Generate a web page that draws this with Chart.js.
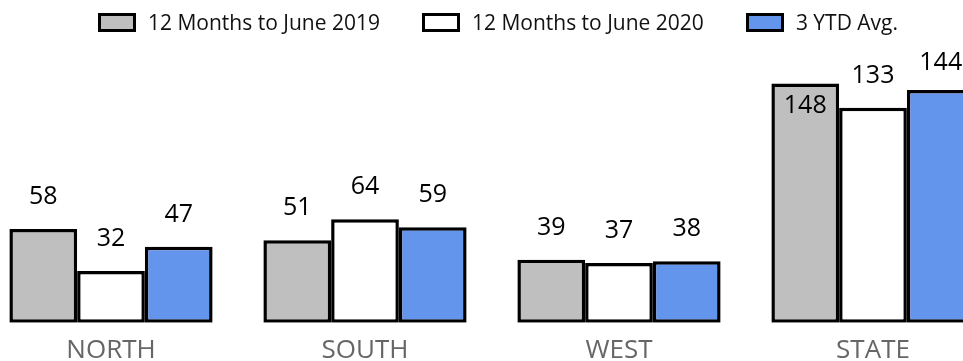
<!DOCTYPE html>
<html lang="en">
  <head>
    <meta charset="UTF-8" />
    <title>Regions</title>
    <script src="https://cdn.jsdelivr.net/npm/chart.js"></script>
    <style>
      body {
        margin: 0;
        width: 963px;
        height: 361px;
        overflow: hidden;
        background: #fff;
        font-family: "Open Sans", sans-serif;
        position: relative;
      }
      .chart-wrap {
        position: absolute;
        left: -16px;
        top: 0;
        width: 1016px;
        height: 378px;
      }
      .legend {
        position: absolute;
        left: -10px;
        top: 8px;
        width: 1016px;
        display: flex;
        justify-content: center;
        gap: 42px;
        font-size: 21px;
        line-height: 28px;
        color: #111;
      }
      .legend-item {
        display: flex;
        align-items: center;
        gap: 12px;
      }
      .legend-box {
        width: 38px;
        height: 19px;
        box-sizing: border-box;
        border: 3.5px solid #000;
      }
    </style>
  </head>
  <body>
    <div class="chart-wrap">
      <canvas id="regionChart"></canvas>
    </div>
    <div class="legend" id="legend"></div>

    <script>
      var regions = ["NORTH", "SOUTH", "WEST", "STATE"];
      var seriesNames = ["12 Months to June 2019", "12 Months to June 2020", "3 YTD Avg."];
      var months2019 = [58, 51, 39, 148];
      var months2020 = [32, 64, 37, 133];
      var ytdAvg = [47, 59, 38, 144];
      var seriesColors = ["#bfbfbf", "#ffffff", "#6495ed"];

      // legend as plain html, same look as the bars
      var legendEl = document.getElementById("legend");
      seriesNames.forEach(function (name, i) {
        var item = document.createElement("div");
        item.className = "legend-item";
        var box = document.createElement("span");
        box.className = "legend-box";
        box.style.backgroundColor = seriesColors[i];
        var label = document.createElement("span");
        label.textContent = name;
        item.appendChild(box);
        item.appendChild(label);
        legendEl.appendChild(item);
      });

      // value labels above each bar
      var valueLabels = {
        id: "valueLabels",
        afterDatasetsDraw: function (chart) {
          var ctx = chart.ctx;
          ctx.save();
          ctx.font = "25px 'Open Sans'";
          ctx.fillStyle = "#000";
          ctx.textAlign = "center";
          ctx.textBaseline = "middle";
          chart.data.datasets.forEach(function (ds, i) {
            chart.getDatasetMeta(i).data.forEach(function (bar, j) {
              var y = bar.y - 32;
              if (y < 55) {
                y = bar.y + 22; // no room on top, put it inside
              } else if (y < 63) {
                y = 63;
              }
              ctx.fillText(ds.data[j], bar.x, y);
            });
          });
          ctx.restore();
        },
      };

      var ctx = document.getElementById("regionChart").getContext("2d");
      var regionChart = new Chart(ctx, {
        type: "bar",
        data: {
          labels: regions,
          datasets: [
            { label: seriesNames[0], data: months2019, backgroundColor: seriesColors[0] },
            { label: seriesNames[1], data: months2020, backgroundColor: seriesColors[1] },
            { label: seriesNames[2], data: ytdAvg, backgroundColor: seriesColors[2] },
          ],
        },
        options: {
          responsive: true,
          maintainAspectRatio: false,
          animation: false,
          layout: { padding: { top: 64, left: 0, right: 0, bottom: 0 } },
          datasets: {
            bar: {
              borderColor: "#000",
              borderWidth: 3.5,
              borderSkipped: false,
              categoryPercentage: 0.8,
              barPercentage: 1.0,
            },
          },
          plugins: {
            legend: { display: false },
            tooltip: { enabled: false },
          },
          scales: {
            x: {
              grid: { display: false, drawTicks: false },
              border: { display: false },
              ticks: {
                color: "#666",
                padding: 12,
                font: { family: "'Open Sans'", size: 26 },
              },
            },
            y: {
              display: false,
              min: 0,
              max: 160,
            },
          },
        },
        plugins: [valueLabels],
      });
    </script>
  </body>
</html>
